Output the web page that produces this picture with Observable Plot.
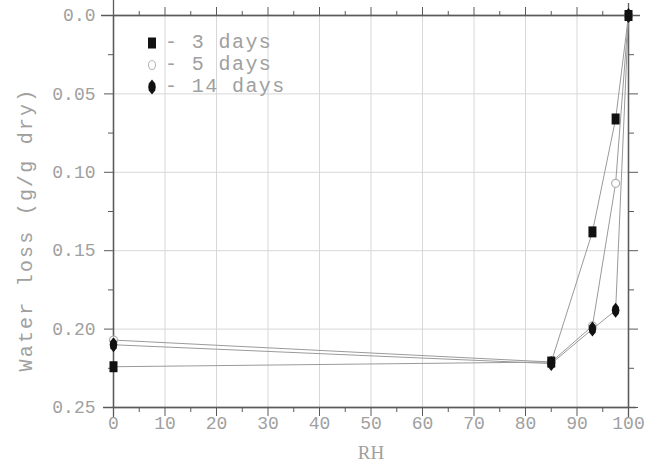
<!DOCTYPE html>
<html><head><meta charset="utf-8">
<script src="https://cdn.jsdelivr.net/npm/d3@7"></script>
<script src="https://cdn.jsdelivr.net/npm/@observablehq/plot@0.6"></script>
<style>
body{margin:0;background:#fff;}
#wrap{position:relative;width:658px;height:470px;}
.legend{position:absolute;left:146px;top:32px;font-family:"Liberation Mono",monospace;font-size:20px;color:#a0a0a0;letter-spacing:1.4px;}
.legend .row{display:flex;align-items:center;height:22px;}
.legend svg{width:12px;height:16px;margin-right:7px;}
.legend span{white-space:pre;line-height:22px;}
.ytitle text{letter-spacing:2.2px;}
</style></head><body><div id="wrap"></div>
<script>
const rh = [0, 85, 93, 97.5, 100];
const days3 = [0.224, 0.221, 0.138, 0.066, 0.0];
const days5 = [0.207, 0.221, 0.198, 0.107, 0.0];
const days14 = [0.210, 0.222, 0.200, 0.188, 0.0];
const seriesNames = ["3 days", "5 days", "14 days"];
const xTicks = [0, 10, 20, 30, 40, 50, 60, 70, 80, 90, 100];
const xMinor = [5, 15, 25, 35, 45, 55, 65, 75, 85, 95];
const yTicks = [0, 0.05, 0.1, 0.15, 0.2, 0.25];
const yMinor = [0.025, 0.075, 0.125, 0.175, 0.225];
const yTickLabels = ["0.0", "0.05", "0.10", "0.15", "0.20", "0.25"];
const xLabel = "RH";
const yLabel = "Water loss (g/g dry)";

const seriesValues = [days3, days5, days14];
const rows = [];
seriesValues.forEach((vals, s) => rh.forEach((x, i) => rows.push({rh: x, loss: vals[i], series: seriesNames[s]})));
const bySeries = name => rows.filter(d => d.series === name);

const squareSym = {draw(ctx) { ctx.rect(-4, -5.5, 8, 11); }};
const diamondSym = {draw(ctx) {
  ctx.moveTo(0, -7.5); ctx.lineTo(3.2, -3.5); ctx.lineTo(3.8, 0); ctx.lineTo(3.2, 3.5);
  ctx.lineTo(0, 7.5); ctx.lineTo(-3.2, 3.5); ctx.lineTo(-3.8, 0); ctx.lineTo(-3.2, -3.5); ctx.closePath();
}};

const axisColor = "#5a5a5a";
const labelColor = "#a0a0a0";

const chart = Plot.plot({
  width: 658, height: 470,
  marginLeft: 113, marginRight: 30, marginTop: 15, marginBottom: 63,
  style: {fontFamily: "'Liberation Mono', monospace", fontSize: "18px", background: "#fff", overflow: "visible"},
  x: {domain: [0, 100]},
  y: {domain: [0, 0.25], reverse: true},
  marks: [
    Plot.gridX(xTicks.slice(1, -1), {stroke: "#d8d8d8", strokeOpacity: 1}),
    Plot.gridY(yTicks.slice(1, -1), {stroke: "#d8d8d8", strokeOpacity: 1}),
    // ticks
    Plot.axisX({ticks: xTicks, tickSize: 9, tickFormat: () => "", stroke: axisColor, label: null}),
    Plot.axisX({ticks: xMinor, tickSize: 5, tickFormat: () => "", stroke: axisColor, label: null}),
    Plot.axisX({anchor: "top", ticks: xTicks, tickSize: 9, tickFormat: () => "", stroke: axisColor, label: null}),
    Plot.axisX({anchor: "top", ticks: xMinor, tickSize: 5, tickFormat: () => "", stroke: axisColor, label: null}),
    Plot.axisY({ticks: yTicks, tickSize: 9, tickFormat: () => "", stroke: axisColor, label: null}),
    Plot.axisY({ticks: yMinor, tickSize: 5, tickFormat: () => "", stroke: axisColor, label: null}),
    Plot.axisY({anchor: "right", ticks: yTicks, tickSize: 9, tickFormat: () => "", stroke: axisColor, label: null}),
    Plot.axisY({anchor: "right", ticks: yMinor, tickSize: 5, tickFormat: () => "", stroke: axisColor, label: null}),
    // tick labels
    Plot.axisX({ticks: xTicks, tickSize: 0, tickPadding: 9, fill: labelColor, label: null, fontSize: 18}),
    Plot.axisY({ticks: yTicks, tickSize: 0, tickPadding: 18, fill: labelColor, label: null, fontSize: 18,
      tickFormat: d => yTickLabels[yTicks.indexOf(d)]}),
    // frame & extended spines
    Plot.frame({stroke: axisColor, strokeWidth: 1.3}),
    Plot.ruleY([0.25], {stroke: axisColor, strokeWidth: 1.3, insetLeft: -10, insetRight: -8}),
    Plot.ruleY([0], {stroke: axisColor, strokeWidth: 1.3, insetLeft: -12, insetRight: -12}),
    Plot.ruleX([0], {stroke: axisColor, strokeWidth: 1.3, insetTop: -15, insetBottom: -10}),
    Plot.ruleX([100], {stroke: axisColor, strokeWidth: 1.3, insetTop: -12, insetBottom: -10}),
    // series lines
    ...seriesNames.map(n => Plot.line(bySeries(n), {x: "rh", y: "loss", stroke: "#9a9a9a", strokeWidth: 1})),
    Plot.dot(bySeries("5 days"), {x: "rh", y: "loss", symbol: "circle", r: 4, stroke: "#b0b0b0", fill: "#fff", strokeWidth: 1.2}),
    Plot.dot(bySeries("3 days"), {x: "rh", y: "loss", symbol: squareSym, fill: "#111", stroke: "none"}),
    Plot.dot(bySeries("14 days"), {x: "rh", y: "loss", symbol: diamondSym, fill: "#111", stroke: "none"}),
    // axis titles
    Plot.text([yLabel], {frameAnchor: "left", textAnchor: "middle", dx: -88, dy: 18, rotate: -90, fill: labelColor, fontSize: 20,
      fontFamily: "'Liberation Mono', monospace", className: "ytitle"}),
    Plot.text([xLabel], {frameAnchor: "bottom", dy: 51, fill: labelColor, fontSize: 19, fontFamily: "'Liberation Serif', serif"})
  ]
});
const wrap = document.getElementById("wrap");
wrap.appendChild(chart);

// legend
const legend = document.createElement("div");
legend.className = "legend";
const markerSvgs = [
  '<svg viewBox="-6 -8 12 16"><rect x="-4" y="-5.5" width="8" height="11" fill="#111"/></svg>',
  '<svg viewBox="-6 -8 12 16"><ellipse cx="0" cy="0" rx="3.5" ry="4.5" fill="#fff" stroke="#b8b8b8" stroke-width="1.2"/></svg>',
  '<svg viewBox="-6 -8 12 16"><path d="M0,-7.5L3.2,-3.5L3.8,0L3.2,3.5L0,7.5L-3.2,3.5L-3.8,0L-3.2,-3.5Z" fill="#111"/></svg>'
];
seriesNames.forEach((n, i) => {
  const row = document.createElement("div");
  row.className = "row";
  row.innerHTML = markerSvgs[i] + '<span>- ' + n + '</span>';
  legend.appendChild(row);
});
wrap.appendChild(legend);
</script>
</body></html>
